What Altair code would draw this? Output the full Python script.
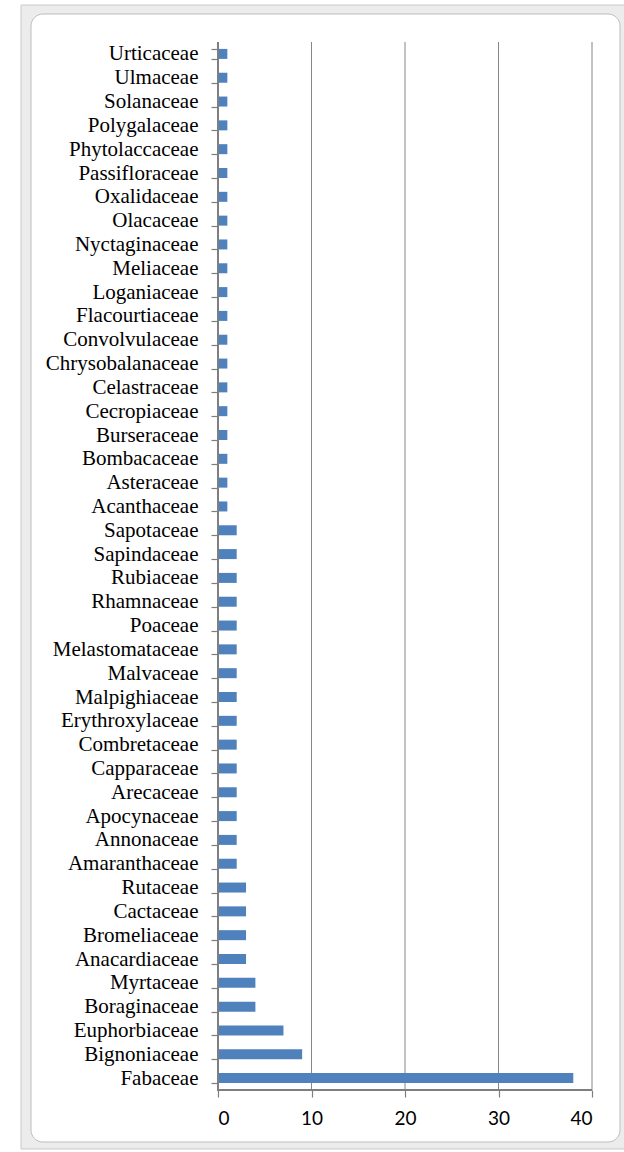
import altair as alt
import pandas as pd

families = [
    "Urticaceae", "Ulmaceae", "Solanaceae", "Polygalaceae", "Phytolaccaceae",
    "Passifloraceae", "Oxalidaceae", "Olacaceae", "Nyctaginaceae", "Meliaceae",
    "Loganiaceae", "Flacourtiaceae", "Convolvulaceae", "Chrysobalanaceae",
    "Celastraceae", "Cecropiaceae", "Burseraceae", "Bombacaceae", "Asteraceae",
    "Acanthaceae", "Sapotaceae", "Sapindaceae", "Rubiaceae", "Rhamnaceae",
    "Poaceae", "Melastomataceae", "Malvaceae", "Malpighiaceae",
    "Erythroxylaceae", "Combretaceae", "Capparaceae", "Arecaceae",
    "Apocynaceae", "Annonaceae", "Amaranthaceae", "Rutaceae", "Cactaceae",
    "Bromeliaceae", "Anacardiaceae", "Myrtaceae", "Boraginaceae",
    "Euphorbiaceae", "Bignoniaceae", "Fabaceae",
]
counts = [
    1, 1, 1, 1, 1, 1, 1, 1, 1, 1, 1, 1, 1, 1, 1, 1, 1, 1, 1, 1,
    2, 2, 2, 2, 2, 2, 2, 2, 2, 2, 2, 2, 2, 2, 2,
    3, 3, 3, 3,
    4, 4,
    7, 9, 38,
]
x_ticks = [0, 10, 20, 30, 40]
grid_values = [10, 20, 30, 40]

df = pd.DataFrame({"family": families, "count": counts})
grid_df = pd.DataFrame({"g": grid_values})
zero_df = pd.DataFrame({"g": [0]})
one = pd.DataFrame({"a": [0]})

W, H = 374, 1048
L, T = 218, 42
AX = "#7f7f7f"

xscale = alt.Scale(domain=[0, 40], nice=False)

# Decorative Excel-like frame (behind everything)
outer = alt.Chart(one).mark_rect(fill="#ececec", stroke="#c9c9c9", strokeWidth=1).encode(
    x=alt.value(21 - L), x2=alt.value(660 - L),
    y=alt.value(5 - T), y2=alt.value(1149 - T),
)
inner = alt.Chart(one).mark_rect(fill="white", stroke="#bdbdbd", strokeWidth=1,
                                 cornerRadius=12).encode(
    x=alt.value(31 - L), x2=alt.value(620 - L),
    y=alt.value(14 - T), y2=alt.value(1142 - T),
)

grid = alt.Chart(grid_df).mark_rule(color="#868686", strokeWidth=1).encode(
    x=alt.X("g:Q", scale=xscale),
)

bars = alt.Chart(df).mark_bar(color="#4F81BD").encode(
    y=alt.Y("family:N", sort=families,
            scale=alt.Scale(paddingInner=0.58, paddingOuter=0.29),
            axis=alt.Axis(title=None, tickBand="extent", labelFont="Liberation Serif",
                          labelFontSize=21, labelColor="black", domain=False,
                          tickColor=AX, tickSize=7, tickWidth=1.2,
                          labelPadding=13, grid=False, labelLimit=300, zindex=1)),
    x=alt.X("count:Q", scale=xscale,
            axis=alt.Axis(title=None, values=x_ticks, grid=False, domain=False,
                          tickColor=AX, tickWidth=1.2,
                          tickSize=7, labelFont="Lato", labelFontSize=19,
                          labelColor="black", labelPadding=12, format="d", zindex=1)),
)

# axis lines (value axis at 0, category axis along the bottom)
yline = alt.Chart(zero_df).mark_rule(color=AX, strokeWidth=2).encode(
    x=alt.X("g:Q", scale=xscale),
    y=alt.value(0), y2=alt.value(H),
)
xline = alt.Chart(one).mark_rule(color=AX, strokeWidth=2).encode(
    x=alt.value(-1), x2=alt.value(W), y=alt.value(H), y2=alt.value(H),
)

chart = alt.layer(outer, inner, grid, bars, yline, xline).properties(
    width=W, height=H,
    autosize=alt.AutoSizeParams(type="none"),
    padding={"left": L, "top": T, "right": 624 - L - W, "bottom": 1152 - T - H},
    background="white",
).configure_view(stroke=None)

chart.save("out.html", embed_options={"renderer": "svg", "actions": False})
